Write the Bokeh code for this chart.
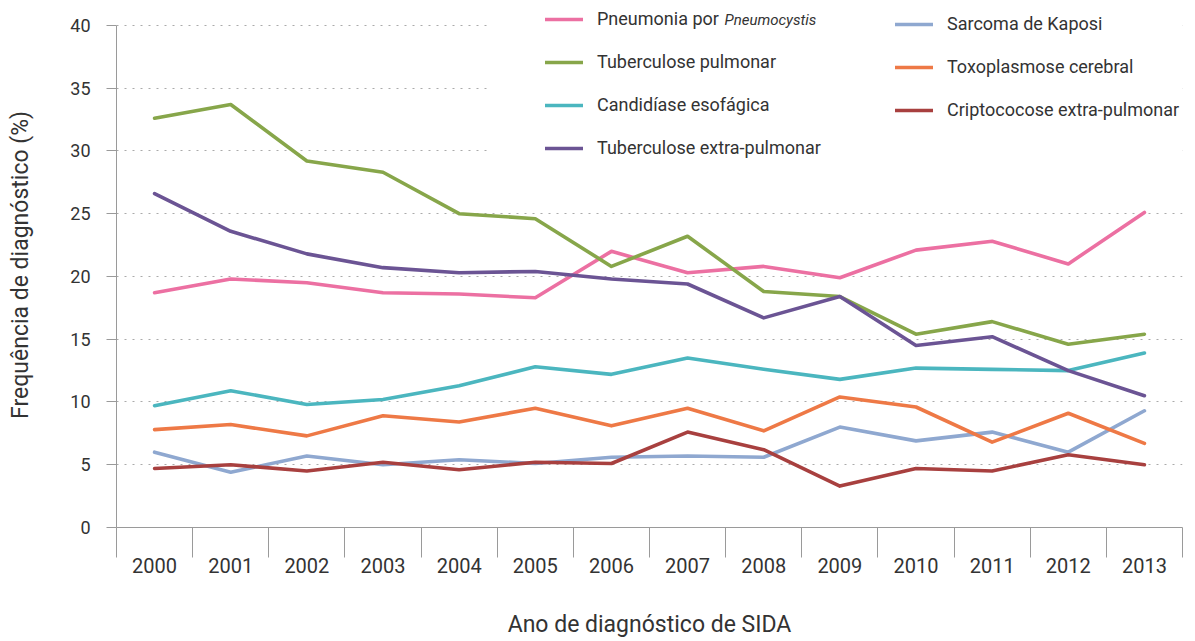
from bokeh.plotting import figure
from bokeh.models import (FixedTicker, Legend, LegendItem, Label, BoxAnnotation, Range1d)
from bokeh.embed import file_html
from bokeh.resources import INLINE

years = list(range(2000, 2014))

pneumonia = [18.7, 19.8, 19.5, 18.7, 18.6, 18.3, 22.0, 20.3, 20.8, 19.9, 22.1, 22.8, 21.0, 25.1]
tb_pulmonar = [32.6, 33.7, 29.2, 28.3, 25.0, 24.6, 20.8, 23.2, 18.8, 18.4, 15.4, 16.4, 14.6, 15.4]
candidiase = [9.7, 10.9, 9.8, 10.2, 11.3, 12.8, 12.2, 13.5, 12.6, 11.8, 12.7, 12.6, 12.5, 13.9]
tb_extra = [26.6, 23.6, 21.8, 20.7, 20.3, 20.4, 19.8, 19.4, 16.7, 18.4, 14.5, 15.2, 12.5, 10.5]
kaposi = [6.0, 4.4, 5.7, 5.0, 5.4, 5.1, 5.6, 5.7, 5.6, 8.0, 6.9, 7.6, 6.0, 9.3]
toxo = [7.8, 8.2, 7.3, 8.9, 8.4, 9.5, 8.1, 9.5, 7.7, 10.4, 9.6, 6.8, 9.1, 6.7]
cripto = [4.7, 5.0, 4.5, 5.2, 4.6, 5.2, 5.1, 7.6, 6.2, 3.3, 4.7, 4.5, 5.8, 5.0]

series_col1 = [
    ("Pneumonia por", pneumonia, "#EC70A2"),
    ("Tuberculose pulmonar", tb_pulmonar, "#87A64A"),
    ("Candidíase esofágica", candidiase, "#4BB6BF"),
    ("Tuberculose extra-pulmonar", tb_extra, "#6B5494"),
]
series_col2 = [
    ("Sarcoma de Kaposi", kaposi, "#8FA8D0"),
    ("Toxoplasmose cerebral", toxo, "#EE7946"),
    ("Criptococose extra-pulmonar", cripto, "#A8403F"),
]

y_ticks = [0, 5, 10, 15, 20, 25, 30, 35, 40]

FONT = "Roboto"
TXT = "#333333"
AX = "#9a9a9a"

# frame extends a little above 40 so the legend's first row is not clipped
p = figure(width=1190, height=640, output_backend="svg", toolbar_location=None,
           x_range=Range1d(1999.5, 2013.5), y_range=Range1d(0, 40 + 23 / 12.6),
           min_border_left=116, min_border_right=8, min_border_top=2, min_border_bottom=111)
p.outline_line_color = None
p.background_fill_color = "white"
p.border_fill_color = "white"

# x axis
xa = p.xaxis[0]
xa.ticker = FixedTicker(ticks=years, minor_ticks=[y - 0.5 for y in years] + [2013.5])
xa.major_tick_out = 0
xa.major_tick_in = 0
xa.minor_tick_out = 30
xa.minor_tick_in = 0
xa.minor_tick_line_color = AX
xa.axis_line_color = AX
xa.major_label_standoff = 0
xa.major_label_text_font = FONT
xa.major_label_text_font_size = "20px"
xa.major_label_text_color = TXT
xa.axis_label = "Ano de diagnóstico de SIDA"
xa.axis_label_text_font = FONT
xa.axis_label_text_font_size = "23px"
xa.axis_label_text_font_style = "normal"
xa.axis_label_text_color = TXT
xa.axis_label_standoff = 35

# y axis
ya = p.yaxis[0]
ya.ticker = FixedTicker(ticks=y_ticks)
ya.bounds = (0, 40)
ya.major_tick_out = 10
ya.major_tick_in = 0
ya.minor_tick_line_color = None
ya.major_tick_line_color = AX
ya.axis_line_color = AX
ya.major_label_standoff = 16
ya.major_label_text_font = FONT
ya.major_label_text_font_size = "18px"
ya.major_label_text_color = TXT
ya.axis_label = "Frequência de diagnóstico (%)"
ya.axis_label_text_font = FONT
ya.axis_label_text_font_size = "23px"
ya.axis_label_text_font_style = "normal"
ya.axis_label_text_color = TXT
ya.axis_label_standoff = 33

p.xgrid.grid_line_color = None
p.ygrid.ticker = FixedTicker(ticks=y_ticks)
p.ygrid.grid_line_color = "#aaaaaa"
p.ygrid.grid_line_dash = "2 6"
p.ygrid.grid_line_width = 1

# white area behind the legend
p.add_layout(BoxAnnotation(left=2004.42, bottom=28.9,
                           fill_color="white", fill_alpha=1, line_alpha=0))

items1, items2 = [], []
for name, vals, col in series_col1:
    r = p.line(years, vals, line_color=col, line_width=3.6, line_join="round", line_cap="round")
    items1.append(LegendItem(label=name, renderers=[r]))
for name, vals, col in series_col2:
    r = p.line(years, vals, line_color=col, line_width=3.6, line_join="round", line_cap="round")
    items2.append(LegendItem(label=name, renderers=[r]))

def make_legend(items, loc):
    lg = Legend(items=items, location=loc, orientation="vertical",
                glyph_width=38, glyph_height=20, label_height=20, label_standoff=14,
                spacing=22, padding=0, margin=0,
                border_line_color=None, background_fill_alpha=0,
                label_text_font=FONT, label_text_font_size="18px", label_text_color=TXT)
    return lg

p.add_layout(make_legend(items1, (429, 369)))
p.add_layout(make_legend(items2, (779, 407)))

p.add_layout(Label(x=608, y=508, x_units="screen", y_units="screen", text="Pneumocystis",
                   text_font=FONT, text_font_size="15px", text_font_style="italic",
                   text_color=TXT, text_baseline="alphabetic"))

open("out.html", "w").write(file_html(p, INLINE))
